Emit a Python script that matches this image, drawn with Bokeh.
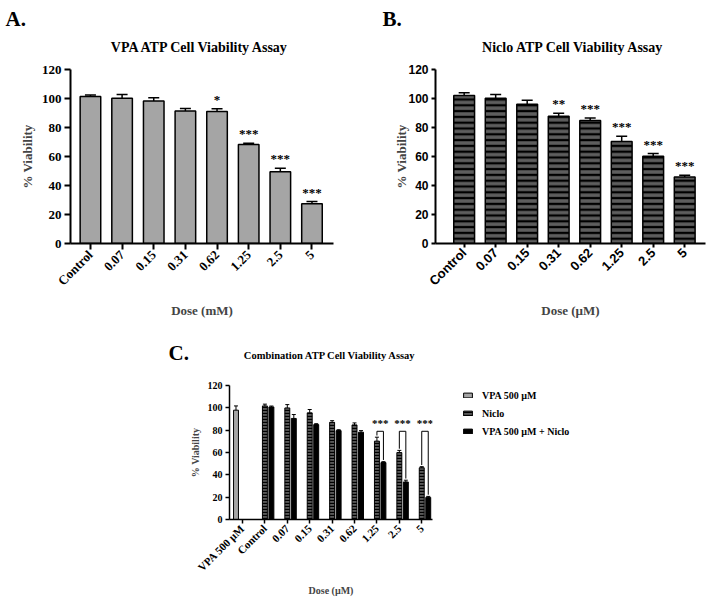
from bokeh.plotting import figure
from bokeh.models import (FixedTicker, Label, Legend, LegendItem, Whisker, TeeHead,
                          ColumnDataSource, Range1d)
from bokeh.layouts import column, row
from bokeh.embed import file_html
from bokeh.resources import INLINE
from bokeh.core.properties import value

SERIF = "Liberation Serif"
SANS = "Liberation Sans"

# ---------------- data ----------------
doses = ["Control", "0.07", "0.15", "0.31", "0.62", "1.25", "2.5", "5"]

vpa_mean = [101.4, 100.1, 98.2, 91.4, 91.0, 68.3, 49.4, 27.4]
vpa_err = [1.0, 2.6, 2.3, 1.7, 2.0, 0.8, 2.5, 1.5]
vpa_sig = ["", "", "", "", "*", "***", "***", "***"]

niclo_mean = [102.0, 100.1, 96.0, 87.8, 84.8, 70.4, 60.1, 45.8]
niclo_err = [2.0, 2.7, 2.8, 2.0, 1.8, 3.6, 2.0, 1.2]
niclo_sig = ["", "", "", "**", "***", "***", "***", "***"]

combo_cats = ["VPA 500 µM", "Control", "0.07", "0.15", "0.31", "0.62", "1.25", "2.5", "5"]
c_vpa_mean = [97.9]
c_vpa_err = [3.8]
c_niclo_mean = [101.7, 99.9, 95.5, 87.0, 84.7, 70.2, 59.9, 46.3]
c_niclo_err = [1.6, 3.0, 3.0, 1.5, 1.8, 3.5, 2.0, 1.0]
c_combo_mean = [100.8, 90.5, 85.0, 79.6, 78.2, 51.0, 33.6, 19.8]
c_combo_err = [0.8, 3.5, 0.8, 0.8, 1.4, 0.8, 1.6, 0.9]
c_sig = ["", "", "", "", "", "***", "***", "***"]
bracket_y = 79.0
legend_labels = ["VPA 500 µM", "Niclo", "VPA 500 µM + Niclo"]

titles = ["VPA ATP Cell Viability Assay", "Niclo ATP Cell Viability Assay",
          "Combination ATP Cell Viability  Assay"]
letters = ["A.", "B.", "C."]

# styles
VPA_STYLE = dict(fill_color="#a5a5a5", line_color="black", line_width=1)
NIC_STYLE_C = dict(fill_color="#5a5a5a", line_color="black", line_width=1,
                   hatch_pattern="horizontal_line", hatch_color="black",
                   hatch_scale=3, hatch_weight=1.3)
COM_STYLE = dict(fill_color="black", line_color="black", line_width=1)


def make_fig(w, h, L, T, R, B, xr, yr):
    p = figure(width=w, height=h, x_range=Range1d(*xr), y_range=Range1d(*yr),
               output_backend="svg", toolbar_location=None,
               min_border_left=L, min_border_top=T,
               min_border_right=R, min_border_bottom=B)
    p.outline_line_color = None
    p.grid.visible = False
    p.background_fill_color = "white"
    p.border_fill_color = "white"
    return p


def blank(w, h):
    """Axis-less strip; data coords equal pixel coords (origin top-left)."""
    p = figure(width=w, height=h, x_range=Range1d(0, w), y_range=Range1d(h, 0),
               x_axis_type=None, y_axis_type=None, output_backend="svg",
               toolbar_location=None, min_border=0, min_border_left=0,
               min_border_right=0, min_border_top=0, min_border_bottom=0)
    p.outline_line_color = None
    p.grid.visible = False
    return p


def header(w, h, texts):
    p = blank(w, h)
    for (x, y, t, size, align) in texts:
        p.add_layout(Label(x=x, y=y, text=t, text_font=SERIF, text_font_size=size,
                           text_font_style="bold", text_align=align,
                           text_baseline="alphabetic", text_color="black"))
    return p


def style_axes(p, ncat, labels, xfont, xsize, yfont, ysize, lab_size, tick_out, lw,
               xlabel, x_standoff, y_standoff):
    xa = p.xaxis[0]
    xa.ticker = FixedTicker(ticks=list(range(ncat)))
    xa.major_label_overrides = {i: lab for i, lab in enumerate(labels)}
    xa.major_label_orientation = 0.785398
    xa.major_label_text_font = xfont
    xa.major_label_text_font_size = xsize
    xa.major_label_text_font_style = "bold"
    xa.major_label_text_color = "black"
    xa.axis_label = xlabel
    xa.axis_label_text_font = SERIF
    xa.axis_label_text_font_style = "bold"
    xa.axis_label_text_font_size = lab_size
    xa.axis_label_standoff = x_standoff
    ya = p.yaxis[0]
    ya.ticker = FixedTicker(ticks=[0, 20, 40, 60, 80, 100, 120])
    ya.major_label_text_font = yfont
    ya.major_label_text_font_size = ysize
    ya.major_label_text_font_style = "bold"
    ya.major_label_text_color = "black"
    ya.axis_label = "% Viability"
    ya.axis_label_text_font = SERIF
    ya.axis_label_text_font_style = "bold"
    ya.axis_label_text_font_size = lab_size
    ya.axis_label_standoff = y_standoff
    for ax in (xa, ya):
        ax.axis_line_width = lw
        ax.axis_line_color = "black"
        ax.major_tick_line_width = lw
        ax.major_tick_line_color = "black"
        ax.major_tick_out = tick_out
        ax.major_tick_in = 0
        ax.minor_tick_line_color = None
        ax.major_label_standoff = 3


def add_errors(p, xs, means, errs, cap, lw):
    src = ColumnDataSource(dict(x=xs, lo=[m - e for m, e in zip(means, errs)],
                                hi=[m + e for m, e in zip(means, errs)]))
    w = Whisker(source=src, base="x", upper="hi", lower="lo", line_width=lw,
                line_color="black",
                upper_head=TeeHead(size=cap, line_width=lw, line_color="black"),
                lower_head=TeeHead(size=cap, line_width=lw, line_color="black"))
    p.add_layout(w)


def add_stars(p, xs, ys, texts, fs):
    src = ColumnDataSource(dict(x=xs, y=ys, t=texts))
    p.text(x="x", y="y", text="t", source=src, text_font=value(SERIF),
           text_font_size=f"{fs}px", text_font_style="bold", text_align="center",
           text_baseline="alphabetic", text_color="#000000")


# ---------------- headers ----------------
hA = header(355, 55, [(5, 18, letters[0], "21px", "left"),
                      (200, 47, titles[0], "14px", "center")])
hB = header(354, 55, [(27, 18, letters[1], "21px", "left"),
                      (218, 47, titles[1], "14px", "center")])
hC = header(709, 52, [(168, 32, letters[2], "21px", "left"),
                      (331, 35, titles[2], "10.5px", "center")])

# ---------------- Panel A ----------------
pA = make_fig(355, 265, 70, 14, 22, 76, (-0.63, 7.68), (0, 120))
xA = list(range(len(doses)))
pA.vbar(x=xA, top=vpa_mean, width=0.65, fill_color="#a5a5a5", line_color="black",
        line_width=1.5)
add_errors(pA, xA, vpa_mean, vpa_err, 11, 1.5)
add_stars(pA, xA, [m + e + 6.5 for m, e in zip(vpa_mean, vpa_err)], vpa_sig, 13)
style_axes(pA, len(doses), doses, SERIF, "13px", SERIF, "13px", "13px", 6, 2,
           "Dose (mM)", 6, 4)

# ---------------- Panel B ----------------
pB = make_fig(354, 265, 80, 14, 4, 76, (-0.91, 7.66), (0, 120))
pB.vbar(x=xA, top=niclo_mean, width=0.66, fill_color="#5e5e5e", line_color="black",
        line_width=1.5, hatch_pattern="horizontal_line", hatch_color="black",
        hatch_scale=5.8, hatch_weight=2.3)
add_errors(pB, xA, niclo_mean, niclo_err, 11, 1.5)
add_stars(pB, xA, [m + e + 6.5 for m, e in zip(niclo_mean, niclo_err)], niclo_sig, 13)
style_axes(pB, len(doses), doses, SANS, "13px", SANS, "12px", "13px", 4, 2,
           "Dose (µM)", 6, -4)

# ---------------- Panel C ----------------
pC = make_fig(450, 226, 229, 13, 18, 77, (-0.58, 8.48), (0, 120))
off = 0.29
bw = 0.22
x_vpa = [0 - off]
x_nic = [i for i in range(1, len(combo_cats))]
x_com = [i + off for i in range(1, len(combo_cats))]
pC.vbar(x=x_vpa, top=c_vpa_mean, width=bw, **VPA_STYLE)
pC.vbar(x=x_nic, top=c_niclo_mean, width=bw, **NIC_STYLE_C)
pC.vbar(x=x_com, top=c_combo_mean, width=bw, **COM_STYLE)
add_errors(pC, x_vpa, c_vpa_mean, c_vpa_err, 4, 1)
add_errors(pC, x_nic, c_niclo_mean, c_niclo_err, 4, 1)
add_errors(pC, x_com, c_combo_mean, c_combo_err, 4, 1)

bxs, bys, sx, sy, st = [], [], [], [], []
for i, s in enumerate(c_sig):
    if not s:
        continue
    xn, xc = x_nic[i], x_com[i]
    yn = c_niclo_mean[i] + c_niclo_err[i] + 1.5
    yc = c_combo_mean[i] + c_combo_err[i] + 1.5
    bxs.append([xn, xn, xc, xc])
    bys.append([yn, bracket_y, bracket_y, yc])
    sx.append((xn + xc) / 2)
    sy.append(bracket_y + 7)
    st.append(s)
pC.multi_line(xs=bxs, ys=bys, line_color="black", line_width=1)
add_stars(pC, sx, sy, st, 11)

style_axes(pC, len(combo_cats), combo_cats, SERIF, "11px", SERIF, "10px", "10px", 4, 1.5,
           "Dose (µM)", 4, 4)

# ---------------- legend strip for panel C ----------------
# hidden copies of the three series supply the legend keys
lf = blank(259, 226)
lr1 = lf.vbar(x=x_vpa, top=c_vpa_mean, width=bw, visible=False, **VPA_STYLE)
lr2 = lf.vbar(x=x_nic, top=c_niclo_mean, width=bw, visible=False, **NIC_STYLE_C)
lr3 = lf.vbar(x=x_com, top=c_combo_mean, width=bw, visible=False, **COM_STYLE)
legend = Legend(items=[LegendItem(label=legend_labels[0], renderers=[lr1]),
                       LegendItem(label=legend_labels[1], renderers=[lr2]),
                       LegendItem(label=legend_labels[2], renderers=[lr3])],
                location=(12, 160), orientation="vertical")
legend.glyph_width = 11
legend.glyph_height = 6
legend.label_height = 14
legend.spacing = 4
legend.padding = 0
legend.margin = 0
legend.label_standoff = 9
legend.border_line_color = None
legend.background_fill_alpha = 0
legend.inactive_fill_alpha = 0
legend.label_text_font = SERIF
legend.label_text_font_size = "10px"
legend.label_text_font_style = "bold"
legend.label_text_color = "black"
lf.add_layout(legend)

layout = column(row(hA, hB), row(pA, pB), row(hC), row(column(pC), column(lf)))
open("out.html", "w").write(file_html(layout, INLINE))
